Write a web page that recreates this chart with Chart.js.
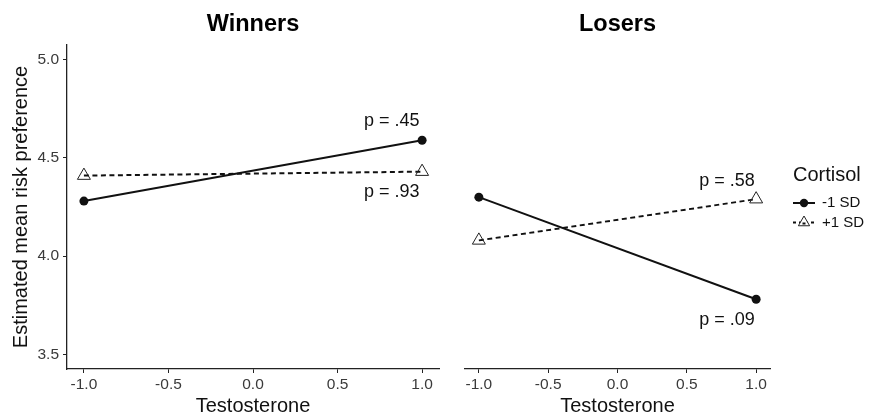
<!DOCTYPE html>
<html>
<head>
<meta charset="utf-8">
<script src="https://cdn.jsdelivr.net/npm/chart.js@4.4.1/dist/chart.umd.min.js"></script>
<style>
  body { margin: 0; background: #fff; }
  #wrap { position: relative; width: 870px; height: 416px; }
  canvas { position: absolute; top: 0; }
</style>
</head>
<body>
<div id="wrap">
  <canvas id="winnersChart" width="440" height="416" style="left:0"></canvas>
  <canvas id="losersChart" width="430" height="416" style="left:440px"></canvas>
</div>
<script>
const testosterone = [-1, 1];
const xTicks = [-1, -0.5, 0, 0.5, 1];
const yTicks = [3.5, 4.0, 4.5, 5.0];

const winnersLow = [4.28, 4.59];
const winnersHigh = [4.41, 4.43];
const losersLow = [4.30, 3.78];
const losersHigh = [4.08, 4.29];

const seriesNames = ['-1 SD', '+1 SD'];

const winnersNotes = ['p = .45', 'p = .93'];
const winnersNoteX = [0.82, 0.82];
const winnersNoteY = [4.69, 4.325];
const losersNotes = ['p = .58', 'p = .09'];
const losersNoteX = [0.79, 0.79];
const losersNoteY = [4.38, 3.675];

const FONT = '"Liberation Sans", Arial, sans-serif';
const INK = '#111';
const TICK_INK = '#3a3a3a';

function toPoints(ys) {
    return testosterone.map((x, i) => ({ x: x, y: ys[i] }));
}

function makeDatasets(low, high) {
    return [
        {
            label: seriesNames[0],
            data: toPoints(low),
            showLine: true,
            borderColor: INK,
            borderWidth: 2,
            backgroundColor: INK,
            pointStyle: 'circle',
            pointRadius: 4.5,
            pointBorderWidth: 0,
            pointBackgroundColor: INK
        },
        {
            label: seriesNames[1],
            data: toPoints(high),
            showLine: true,
            borderColor: INK,
            borderWidth: 2,
            borderDash: [5, 3.5],
            backgroundColor: 'rgba(0,0,0,0)',
            pointStyle: 'triangle',
            pointRadius: 7.5,
            pointBorderWidth: 1,
            pointBorderColor: '#222',
            pointBackgroundColor: 'rgba(0,0,0,0)'
        }
    ];
}

// panel title and p-value notes
const notesPlugin = {
    id: 'notes',
    afterDraw(chart, args, opts) {
        const ctx = chart.ctx;
        const area = chart.chartArea;
        ctx.save();
        ctx.fillStyle = '#000';
        ctx.textAlign = 'center';
        ctx.textBaseline = 'middle';
        ctx.font = 'bold 23.5px ' + FONT;
        ctx.fillText(opts.title, (area.left + area.right) / 2, 25);
        ctx.font = '18px ' + FONT;
        ctx.fillStyle = INK;
        opts.texts.forEach((t, i) => {
            const px = chart.scales.x.getPixelForValue(opts.xs[i]);
            const py = chart.scales.y.getPixelForValue(opts.ys[i]);
            ctx.fillText(t, px, py);
        });
        ctx.restore();
    }
};

// ggplot-like legend with line + marker keys
const keyPlugin = {
    id: 'keyLegend',
    afterDraw(chart, args, opts) {
        if (!opts.show) return;
        const ctx = chart.ctx;
        const left = 353;
        ctx.save();
        ctx.fillStyle = INK;
        ctx.textBaseline = 'middle';
        ctx.font = '20px ' + FONT;
        ctx.fillText('Cortisol', left, 175);
        ctx.font = '15px ' + FONT;
        chart.data.datasets.forEach((ds, i) => {
            const y = 203 + i * 19.5;
            ctx.strokeStyle = INK;
            ctx.lineWidth = 2;
            ctx.setLineDash(ds.borderDash ? [3, 3] : []);
            ctx.beginPath();
            ctx.moveTo(left, y);
            ctx.lineTo(left + 22, y);
            ctx.stroke();
            ctx.setLineDash([]);
            const cx = left + 11;
            if (ds.pointStyle === 'circle') {
                ctx.fillStyle = INK;
                ctx.beginPath();
                ctx.arc(cx, y, 4.2, 0, Math.PI * 2);
                ctx.fill();
            } else {
                const r = 6.5;
                ctx.fillStyle = '#fff';
                ctx.strokeStyle = '#222';
                ctx.lineWidth = 1;
                ctx.beginPath();
                ctx.moveTo(cx, y - r);
                ctx.lineTo(cx + r * Math.sin(Math.PI * 2 / 3), y + r / 2);
                ctx.lineTo(cx - r * Math.sin(Math.PI * 2 / 3), y + r / 2);
                ctx.closePath();
                ctx.fill();
                ctx.stroke();
                ctx.strokeStyle = INK;
                ctx.lineWidth = 2;
                ctx.beginPath();
                ctx.moveTo(cx - 1.5, y + 1);
                ctx.lineTo(cx + 1.5, y + 1);
                ctx.stroke();
            }
            ctx.fillStyle = INK;
            ctx.fillText(ds.label, left + 29, y);
        });
        ctx.restore();
    }
};

function makeOptions(showY, padding) {
    return {
        responsive: false,
        animation: false,
        layout: { padding: padding, autoPadding: false },
        plugins: {
            legend: { display: false },
            tooltip: { enabled: false },
            title: { display: false }
        },
        scales: {
            x: {
                type: 'linear',
                min: -1.1,
                max: 1.1,
                afterBuildTicks: axis => { axis.ticks = xTicks.map(v => ({ value: v })); },
                afterFit: axis => {
                    axis.height = 47;
                    axis.paddingLeft = 0;
                    axis.paddingRight = 0;
                },
                ticks: {
                    color: TICK_INK,
                    padding: 2,
                    maxRotation: 0,
                    autoSkip: false,
                    font: { family: FONT, size: 15.5 },
                    callback: v => v.toFixed(1)
                },
                grid: { drawOnChartArea: false, drawTicks: true, tickLength: 4, color: '#222', lineWidth: 1 },
                border: { display: true, color: '#222', width: 1.3 },
                title: {
                    display: true,
                    text: 'Testosterone',
                    color: INK,
                    padding: { top: 0, bottom: 0 },
                    font: { family: FONT, size: 20, lineHeight: 1 }
                }
            },
            y: {
                type: 'linear',
                display: showY,
                min: 3.425,
                max: 5.075,
                afterBuildTicks: axis => { axis.ticks = yTicks.map(v => ({ value: v })); },
                afterFit: axis => { axis.width = showY ? 67 : 0; },
                ticks: {
                    color: TICK_INK,
                    padding: 4,
                    font: { family: FONT, size: 15.5 },
                    callback: v => v.toFixed(1)
                },
                grid: { drawOnChartArea: false, drawTicks: true, tickLength: 4, color: '#222', lineWidth: 1 },
                border: { display: true, color: '#222', width: 1.3 },
                title: {
                    display: true,
                    text: 'Estimated mean risk preference',
                    color: INK,
                    padding: { top: 11, bottom: 0 },
                    font: { family: FONT, size: 20, lineHeight: 1 }
                }
            }
        }
    };
}

const winnersOptions = makeOptions(true, { left: 0, right: 1, top: 45, bottom: 0 });
winnersOptions.plugins.notes = { title: 'Winners', texts: winnersNotes, xs: winnersNoteX, ys: winnersNoteY };
winnersOptions.plugins.keyLegend = { show: false };

const losersOptions = makeOptions(false, { left: 25, right: 100, top: 45, bottom: 0 });
losersOptions.plugins.notes = { title: 'Losers', texts: losersNotes, xs: losersNoteX, ys: losersNoteY };
losersOptions.plugins.keyLegend = { show: true };

const winnersChart = new Chart(document.getElementById('winnersChart').getContext('2d'), {
    type: 'scatter',
    data: { datasets: makeDatasets(winnersLow, winnersHigh) },
    options: winnersOptions,
    plugins: [notesPlugin, keyPlugin]
});

const losersChart = new Chart(document.getElementById('losersChart').getContext('2d'), {
    type: 'scatter',
    data: { datasets: makeDatasets(losersLow, losersHigh) },
    options: losersOptions,
    plugins: [notesPlugin, keyPlugin]
});
</script>
</body>
</html>
